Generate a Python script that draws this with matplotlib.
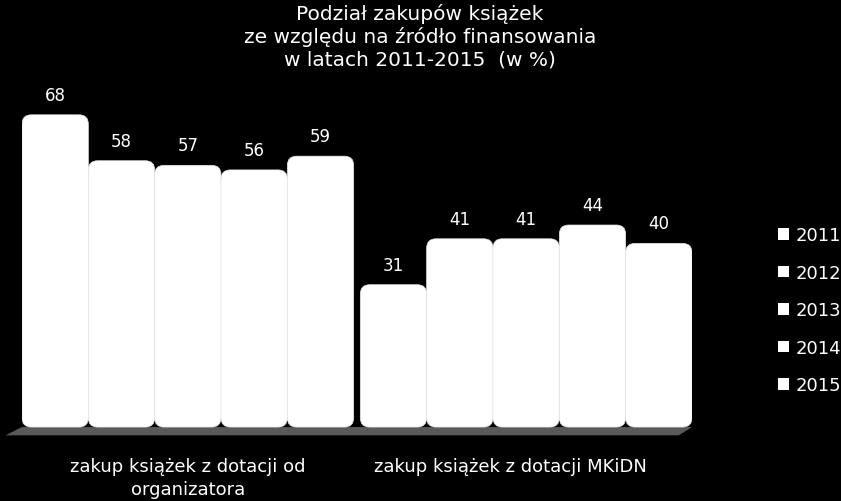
import matplotlib.pyplot as plt
from matplotlib.patches import FancyBboxPatch, Patch, Polygon

# data
categories = ["zakup książek z dotacji od\norganizatora", "zakup książek z dotacji MKiDN"]
years = ["2011", "2012", "2013", "2014", "2015"]
values = [[68, 58, 57, 56, 59],
          [31, 41, 41, 44, 40]]
title = "Podział zakupów książek\nze względu na źródło finansowania\nw latach 2011-2015  (w %)"

fig = plt.figure(figsize=(8.41, 5.02), dpi=100, facecolor="black")
ax = fig.add_axes([22 / 841, (502 - 440) / 502, 670 / 841, 360 / 502])
ax.set_facecolor("black")
ax.set_xlim(-0.5, 9.6)
ax.set_ylim(-2.6, 75.8)
ax.axis("off")

group_gap = 5.1
w = 1.0
# ratio of pixel scales so the rounded corners stay round
aspect = (670 / 10.1) / (360 / 78.4)

# floor
floor = Polygon([(-0.75, -1.8), (-0.5, 0), (9.6, 0), (9.4, -1.8)],
                closed=True, facecolor="#5a5a5a", edgecolor="none", zorder=1,
                clip_on=False)
ax.add_patch(floor)

for g, vals in enumerate(values):
    for i, v in enumerate(vals):
        x = g * group_gap + i
        box = FancyBboxPatch((x - w / 2, 0), w, v,
                             boxstyle="round,pad=0,rounding_size=0.14",
                             mutation_aspect=aspect,
                             facecolor="white", edgecolor="#e6e6e6", linewidth=0.5, zorder=2)
        ax.add_patch(box)
        ax.text(x, v + 2.4, str(v), ha="center", va="bottom", color="white",
                fontsize=12, zorder=3)

# category labels
fig.text(188 / 841, 1 - 458 / 502, categories[0], ha="center", va="top",
         color="white", fontsize=13, linespacing=1.35)
fig.text(510 / 841, 1 - 458 / 502, categories[1], ha="center", va="top",
         color="white", fontsize=13)

fig.text(420 / 841, 1 - 4 / 502, title, ha="center", va="top", color="white",
         fontsize=14.5, linespacing=1.2)

handles = [Patch(facecolor="white", edgecolor="none") for _ in years]
fig.legend(handles, years, loc="upper left", bbox_to_anchor=(762 / 841, 1 - 211 / 502),
           frameon=False, labelcolor="white", fontsize=13, handlelength=0.6,
           handleheight=0.6, handletextpad=0.35, labelspacing=1.08)

fig.savefig("out.png", dpi=100, facecolor="black")
